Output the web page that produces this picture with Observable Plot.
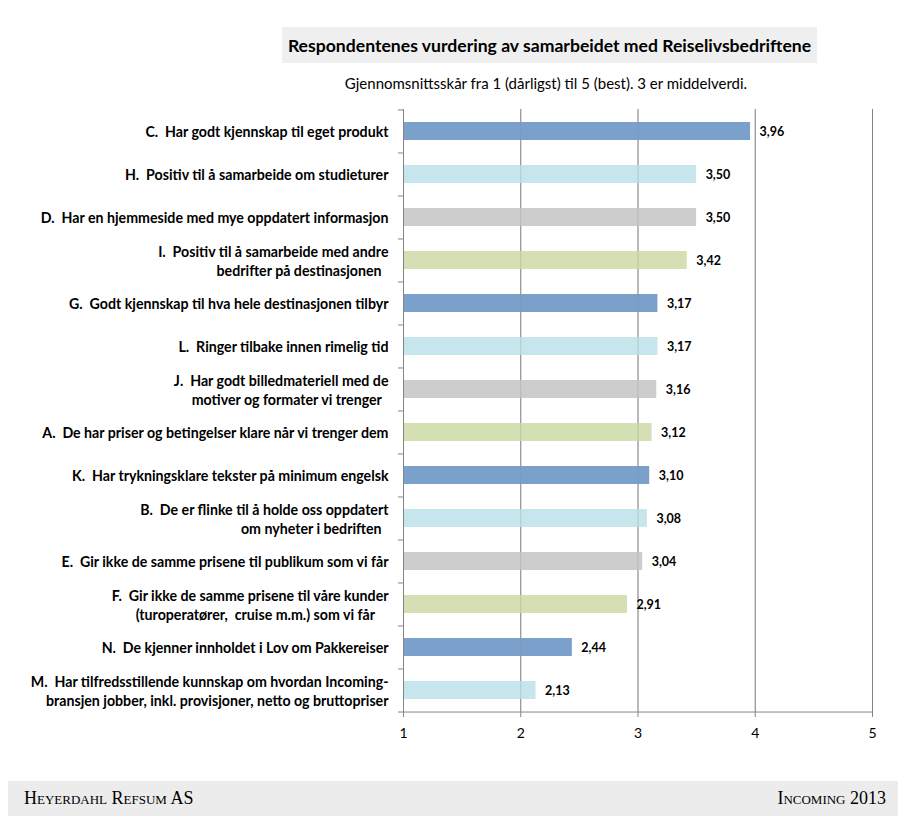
<!DOCTYPE html>
<html>
<head>
<meta charset="utf-8">
<script src="https://cdn.jsdelivr.net/npm/d3@7"></script>
<script src="https://cdn.jsdelivr.net/npm/@observablehq/plot@0.6"></script>
<style>
  body { margin: 0; background: #fff; font-family: Lato, "Open Sans", sans-serif; }
  #page { position: relative; width: 918px; height: 836px; }
  #titlebox { position: absolute; left: 282px; top: 27px; width: 535px; height: 36px; background: #efefef;
    display: flex; align-items: center; justify-content: center; font-weight: bold; font-size: 17.6px; color: #000; }
  #subtitle { position: absolute; left: 282px; top: 74px; width: 528px; text-align: center; font-size: 15px; color: #000; }
  #chart { position: absolute; left: 0; top: 100px; }
  #footer { position: absolute; left: 8px; top: 781px; width: 890px; height: 35px; background: #ececec;
    font-family: "Liberation Serif", "DejaVu Serif", serif; font-variant: small-caps; font-size: 18px; color: #000; }
  #footer .l { position: absolute; left: 16px; top: 7px; }
  #footer .r { position: absolute; right: 12px; top: 7px; }
</style>
</head>
<body>
<div id="page">
  <div id="titlebox">Respondentenes vurdering av samarbeidet med Reiselivsbedriftene</div>
  <div id="subtitle">Gjennomsnittsskår fra 1 (dårligst) til 5 (best). 3 er middelverdi.</div>
  <div id="chart"></div>
  <div id="footer"><span class="l">Heyerdahl Refsum AS</span><span class="r">Incoming 2013</span></div>
</div>
<script>
const categories = [
  "C.  Har godt kjennskap til eget produkt",
  "H.  Positiv til å samarbeide om studieturer",
  "D.  Har en hjemmeside med mye oppdatert informasjon",
  "I.  Positiv til å samarbeide med andre\nbedrifter på destinasjonen\u00a0\u00a0",
  "G.  Godt kjennskap til hva hele destinasjonen tilbyr",
  "L.  Ringer tilbake innen rimelig tid",
  "J.  Har godt billedmateriell med de\nmotiver og formater vi trenger\u00a0\u00a0",
  "A.  De har priser og betingelser klare når vi trenger dem",
  "K.  Har trykningsklare tekster på minimum engelsk",
  "B.  De er flinke til å holde oss oppdatert\nom nyheter i bedriften\u00a0\u00a0",
  "E.  Gir ikke de samme prisene til publikum som vi får",
  "F.  Gir ikke de samme prisene til våre kunder\n(turoperatører,  cruise m.m.) som vi får\u00a0\u00a0\u00a0\u00a0",
  "N.  De kjenner innholdet i Lov om Pakkereiser",
  "M.  Har tilfredsstillende kunnskap om hvordan Incoming-\nbransjen jobber, inkl. provisjoner, netto og bruttopriser"
];
const values = [3.96, 3.50, 3.50, 3.42, 3.17, 3.17, 3.16, 3.12, 3.10, 3.08, 3.04, 2.91, 2.44, 2.13];
const xTicks = [1, 2, 3, 4, 5];

const palette = ["#7ba0cc", "#c6e5ec", "#cdcdcd", "#d4dfb3"];
const barColors = categories.map((c, i) => palette[i % 4]);
const data = categories.map((c, i) => ({label: c, value: values[i]}));

const H = 650, mTop = 9, mBottom = 38;
const step = (H - mTop - mBottom) / categories.length;
const gridColor = "#868686";
const last = categories[categories.length - 1];

const chart = Plot.plot({
  width: 918,
  height: H,
  marginTop: mTop,
  marginBottom: mBottom,
  marginLeft: 403,
  marginRight: 46,
  style: {fontFamily: "Lato, 'Open Sans', sans-serif", color: "#000", background: "transparent"},
  x: {domain: [1, 5], ticks: xTicks, label: null},
  y: {domain: categories, paddingInner: 0.58, paddingOuter: 0.29, label: null},
  color: {domain: categories, range: barColors},
  marks: [
    Plot.gridX(xTicks.slice(1), {stroke: gridColor, strokeOpacity: 1, strokeWidth: 1}),
    Plot.barX(data, {x1: 1, x2: "value", y: "label", fill: "label"}),
    Plot.gridX(xTicks.slice(1), {stroke: gridColor, strokeOpacity: 0.3, strokeWidth: 1}),
    Plot.ruleX([1], {stroke: gridColor}),
    Plot.axisY({tickSize: 5, tickFormat: () => "", dy: -step / 2, stroke: gridColor}),
    Plot.axisY([last], {tickSize: 5, tickFormat: () => "", dy: step / 2, stroke: gridColor}),
    Plot.ruleY([last], {x1: 1, x2: 5, dy: step / 2, stroke: gridColor}),
    Plot.axisX({ticks: xTicks, tickSize: 5, tickPadding: 11, tickFormat: d => String(d), stroke: gridColor,
      fontSize: 14, fill: "#000", label: null}),
    Plot.text(data, {x: () => 1, y: "label", text: "label", dx: -15, textAnchor: "end", lineAnchor: "middle",
      lineHeight: 1.3, fontWeight: "bold", fontSize: 14.2, fill: "#000"}),
    Plot.text(data, {x: "value", y: "label", text: d => d.value.toFixed(2).replace(".", ","), dx: 9,
      textAnchor: "start", fontWeight: "bold", fontSize: 12.5, fill: "#000"})
  ]
});
document.getElementById("chart").appendChild(chart);
</script>
</body>
</html>
